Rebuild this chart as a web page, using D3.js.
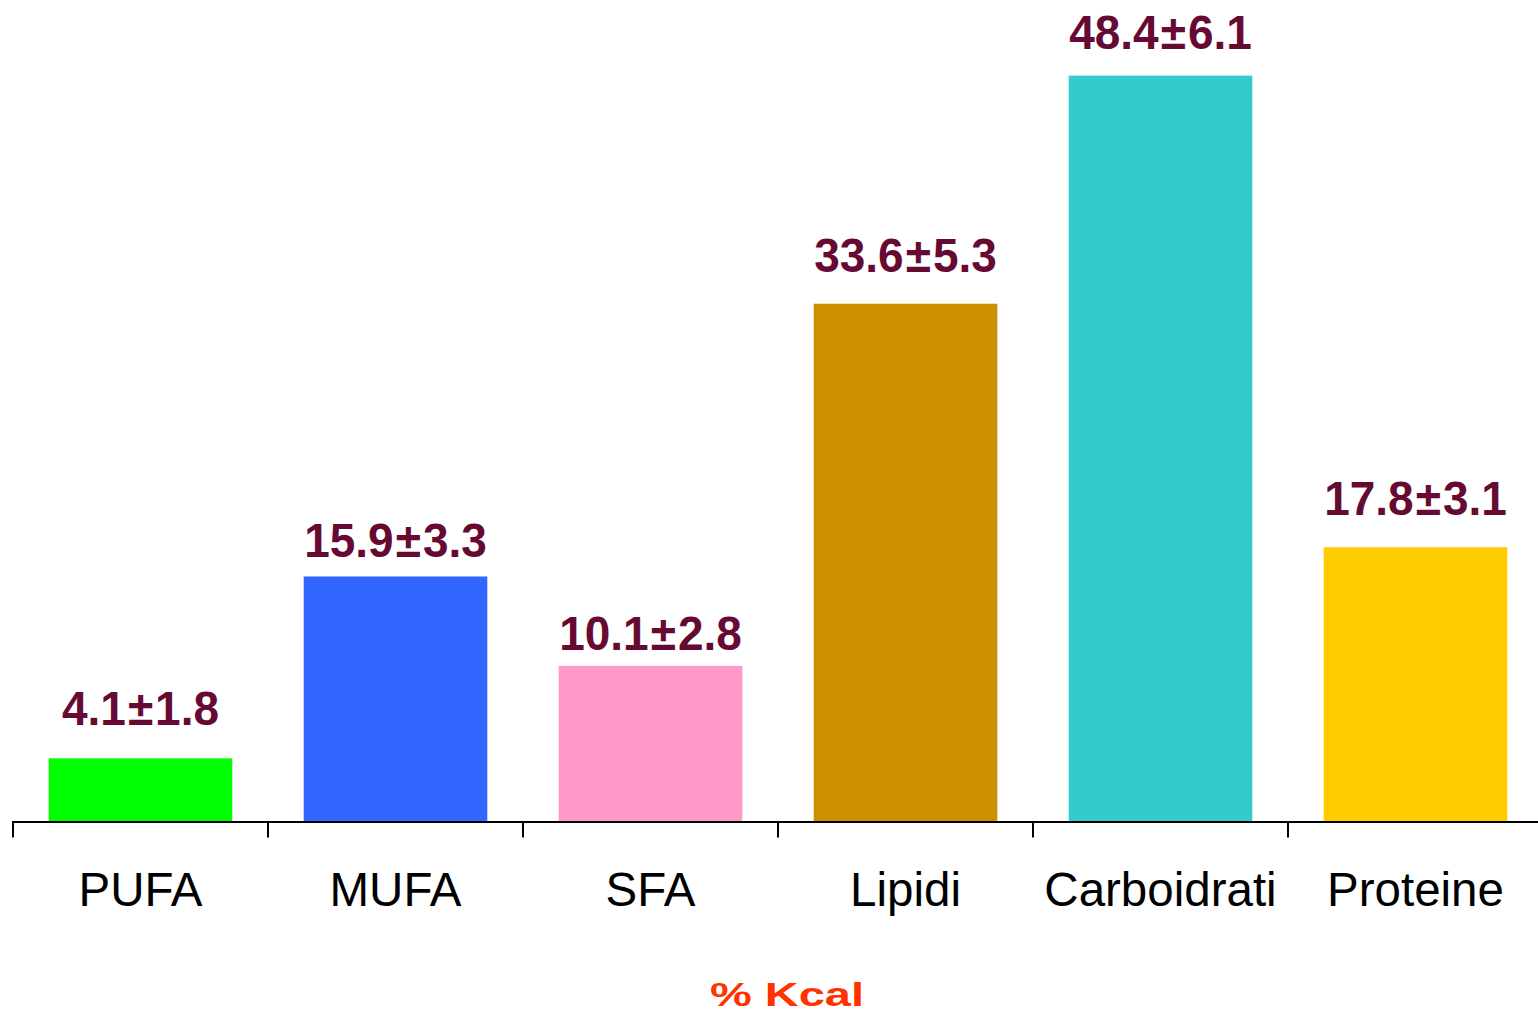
<!DOCTYPE html>
<html>
<head>
<meta charset="utf-8">
<script src="https://cdn.jsdelivr.net/npm/d3@7/dist/d3.min.js"></script>
<style>
  html, body { margin: 0; padding: 0; background: #ffffff; }
  svg { display: block; }
</style>
</head>
<body>
<div id="chart"></div>
<script>
// Energy share of each nutrient (% Kcal), mean ± SD
const categories = ["PUFA", "MUFA", "SFA", "Lipidi", "Carboidrati", "Proteine"];
const means = [4.1, 15.9, 10.1, 33.6, 48.4, 17.8];
const sds = [1.8, 3.3, 2.8, 5.3, 6.1, 3.1];
const colors = ["#00ff00", "#3366ff", "#ff99cc", "#cb8f00", "#33cccc", "#ffcc00"];
const axisTitle = "% Kcal";

const width = 1538, height = 1018;
const font = "'Liberation Sans', Arial, sans-serif";
const svg = d3.select("#chart").append("svg")
  .attr("width", width).attr("height", height);

const baseY = 821.5;
const x = d3.scaleBand()
  .domain(categories)
  .range([13, 1543])
  .paddingInner(0.28)
  .paddingOuter(0.14);

const y = d3.scaleLinear()
  .domain([0, 50])
  .range([baseY, baseY - 50 * 15.41]);

// Bars
svg.append("g").selectAll("rect")
  .data(categories)
  .join("rect")
  .attr("x", d => x(d))
  .attr("width", x.bandwidth())
  .attr("y", (d, i) => y(means[i]))
  .attr("height", (d, i) => y(0) - y(means[i]))
  .attr("fill", (d, i) => colors[i]);

// Baseline with ticks at category boundaries
const axisG = svg.append("g");
axisG.append("line")
  .attr("x1", 12).attr("x2", width)
  .attr("y1", baseY + 0.5).attr("y2", baseY + 0.5)
  .attr("stroke", "#000").attr("stroke-width", 2);
const boundaries = categories.map(c => x(c) - x.step() * x.paddingInner() / 2);
axisG.selectAll("line.tick")
  .data(boundaries)
  .join("line")
  .attr("class", "tick")
  .attr("x1", d => d).attr("x2", d => d)
  .attr("y1", baseY).attr("y2", baseY + 16)
  .attr("stroke", "#000").attr("stroke-width", 2);

// Category labels
svg.append("g").selectAll("text")
  .data(categories)
  .join("text")
  .attr("x", d => x(d) + x.bandwidth() / 2)
  .attr("y", 906)
  .attr("text-anchor", "middle")
  .attr("font-family", font)
  .attr("font-size", 47.5)
  .attr("fill", "#000")
  .text(d => d);

// Value labels (mean ± SD) above each bar; gap between label and bar top
const labelGap = { PUFA: 33, MUFA: 19, SFA: 16, Lipidi: 32, Carboidrati: 27, Proteine: 32 };
const valueLabels = svg.append("g").selectAll("text")
  .data(categories)
  .join("text")
  .attr("transform", (d, i) => {
    const cx = x(d) + x.bandwidth() / 2;
    const by = y(means[i]) - labelGap[d];
    return `translate(${cx},${by}) scale(1,1.05)`;
  })
  .attr("text-anchor", "middle")
  .attr("font-family", font)
  .attr("font-weight", "bold")
  .attr("font-size", 46)
  .attr("fill", "#660a33");
valueLabels.append("tspan").text((d, i) => means[i].toFixed(1));
valueLabels.append("tspan").attr("dx", 2).text("±");
valueLabels.append("tspan").attr("dx", 2).text((d, i) => sds[i].toFixed(1));

// Axis title
svg.append("text")
  .attr("transform", "translate(787,1006) scale(1,0.72)")
  .attr("text-anchor", "middle")
  .attr("font-family", font)
  .attr("font-weight", "bold")
  .attr("font-size", 47)
  .attr("fill", "#ff3300")
  .text(axisTitle);
</script>
</body>
</html>
